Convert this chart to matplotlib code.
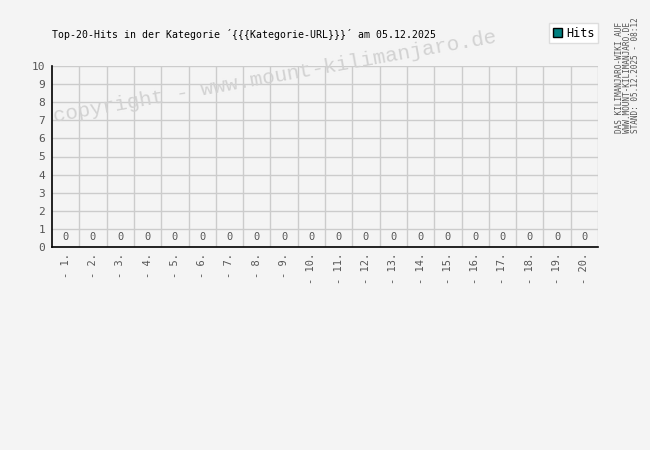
import matplotlib.pyplot as plt
from matplotlib.patches import Patch

categories = ['- %d.' % i for i in range(1, 21)]
hits = [0] * 20
title = 'Top-20-Hits in der Kategorie ´{{{Kategorie-URL}}}´ am 05.12.2025'
side_lines = ['DAS KILIMANJARO-WIKI AUF', 'WWW.MOUNT-KILIMANJARO.DE', 'STAND: 05.12.2025 - 08:12']

bg = '#f4f4f4'
mono = ['DejaVu Sans Mono']

fig = plt.figure(figsize=(6.5, 4.5), dpi=100, facecolor=bg)
ax = fig.add_axes([52 / 650, 1 - 247 / 450, 546 / 650, 181 / 450], facecolor=bg)

x = list(range(len(categories)))
ax.bar(x, hits, width=0.6, color='#008080', edgecolor='black', linewidth=0.5, zorder=3)
for xi, v in zip(x, hits):
    ax.text(xi, v + 0.55, str(v), ha='center', va='center', fontsize=7.5,
            color='#555555', family=mono, zorder=4)

ax.set_xlim(-0.5, len(categories) - 0.5)
ax.set_ylim(0, 10)
ax.set_yticks(range(11))
ax.set_xticks(x)
ax.set_xticklabels(categories, rotation=90, va='top', ha='center', fontsize=7.5,
                   color='#555555', family=mono)
ax.tick_params(axis='y', labelsize=8, labelcolor='#555555', length=0, pad=5)
ax.tick_params(axis='x', length=0, pad=4)
for lbl in ax.get_yticklabels():
    lbl.set_family(mono)

ax.set_xticks([i - 0.5 for i in range(1, len(categories) + 1)], minor=True)
ax.grid(True, which='minor', axis='x', color='#cccccc', linewidth=1)
ax.grid(True, which='major', axis='y', color='#cccccc', linewidth=1)
ax.grid(False, which='major', axis='x')
ax.set_axisbelow(True)
for side in ['top', 'right']:
    ax.spines[side].set_visible(False)
ax.spines['left'].set_color('black')
ax.spines['bottom'].set_color('black')
ax.spines['left'].set_linewidth(1.2)
ax.spines['bottom'].set_linewidth(1.2)
ax.tick_params(which='minor', length=0)

fig.text(52 / 650, 1 - 34 / 450, title, fontsize=7.1, family=mono, color='black',
         ha='left', va='center')

fig.text(275 / 650, 1 - 77 / 450, 'copyright - www.mount-kilimanjaro.de', fontsize=15,
         family=['Liberation Mono'], color='#d2d2d2', rotation=10.2, ha='center',
         va='center', rotation_mode='anchor', zorder=10)

for i, line in enumerate(side_lines):
    fig.text((619 + i * 8) / 650, 1 - 133 / 450, line, fontsize=5.6, family=mono,
             color='#555555', rotation=90, ha='left', va='center', rotation_mode='anchor')

leg = fig.legend(handles=[Patch(facecolor='#008080', edgecolor='black', label='Hits')],
                 loc='upper right', bbox_to_anchor=(598 / 650, 1 - 23 / 450),
                 borderaxespad=0, fancybox=False, framealpha=1, edgecolor='#dddddd',
                 handlelength=0.8, handleheight=0.8, handletextpad=0.3, borderpad=0.3,
                 prop={'family': mono, 'size': 8.5})
leg.get_frame().set_facecolor('white')

fig.savefig('out.png', dpi=100, facecolor=bg)
